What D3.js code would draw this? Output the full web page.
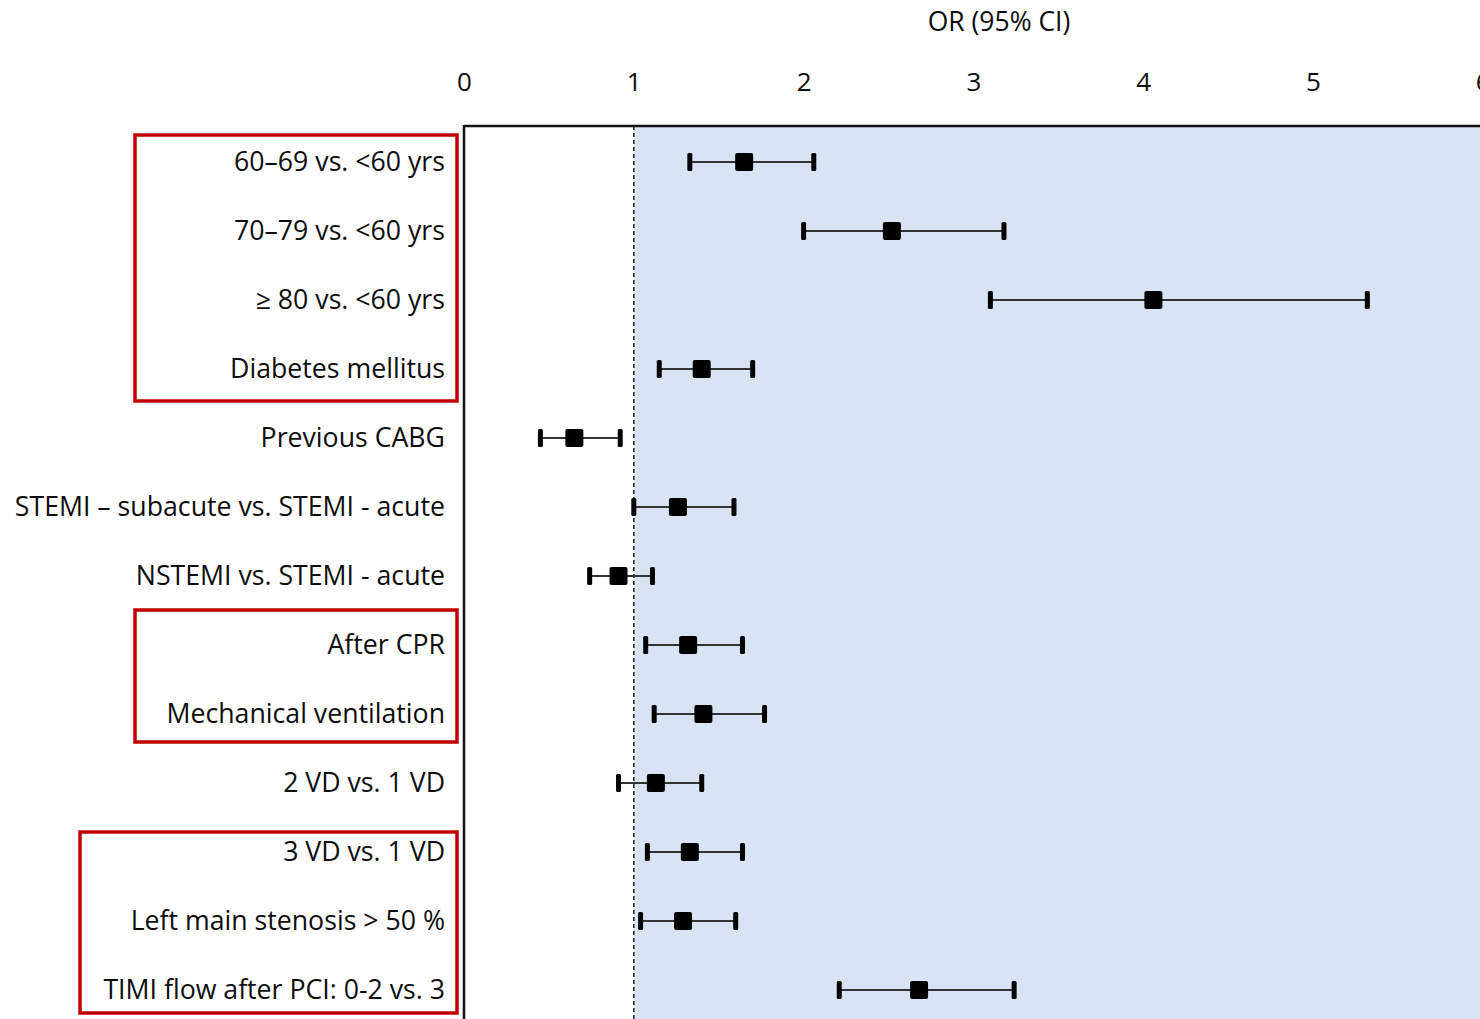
<!DOCTYPE html>
<html>
<head>
<meta charset="utf-8">
<script src="https://cdn.jsdelivr.net/npm/d3@7"></script>
<style>
  body { margin: 0; background: #fff; overflow: hidden; }
  svg text { font-family: "Open Sans", Lato, sans-serif; fill: #0d0d0d; }
</style>
</head>
<body>
<div class="chart-container"></div>
<script>
// forest plot data
const labels = [
  "60\u201369 vs. <60 yrs",
  "70\u201379 vs. <60 yrs",
  "\u2265 80 vs. <60 yrs",
  "Diabetes mellitus",
  "Previous CABG",
  "STEMI \u2013 subacute vs. STEMI - acute",
  "NSTEMI vs. STEMI - acute",
  "After CPR",
  "Mechanical ventilation",
  "2 VD vs. 1 VD",
  "3 VD vs. 1 VD",
  "Left main stenosis > 50 %",
  "TIMI flow after PCI: 0-2 vs. 3"
];
const or    = [1.65, 2.52, 4.06, 1.40, 0.65, 1.26, 0.91, 1.32, 1.41, 1.13, 1.33, 1.29, 2.68];
const lower = [1.33, 2.00, 3.10, 1.15, 0.45, 1.00, 0.74, 1.07, 1.12, 0.91, 1.08, 1.04, 2.21];
const upper = [2.06, 3.18, 5.32, 1.70, 0.92, 1.59, 1.11, 1.64, 1.77, 1.40, 1.64, 1.60, 3.24];
const xTicks = [0, 1, 2, 3, 4, 5, 6];
// highlighted groups (first row, last row)
const groups = [[0, 3], [7, 8], [10, 12]];

const W = 1480, H = 1019;
const plotLeft = 464, plotTop = 126, plotRight = 1534;

const svg = d3.select('.chart-container').append('svg')
  .attr('width', W).attr('height', H);

const x = d3.scaleLinear().domain([0, 6]).range([plotLeft, plotLeft + 6 * 169.8]);
const y = d3.scalePoint().domain(labels).range([162, 990]);

// shaded region right of OR = 1
svg.append('rect')
  .attr('x', x(1)).attr('y', plotTop)
  .attr('width', plotRight - x(1)).attr('height', H - plotTop + 10)
  .attr('fill', '#dae3f3');

// reference line
svg.append('line')
  .attr('x1', x(1)).attr('x2', x(1))
  .attr('y1', plotTop).attr('y2', H + 5)
  .attr('stroke', '#222').attr('stroke-width', 1.5)
  .attr('stroke-dasharray', '4,3');

// frame
svg.append('line')
  .attr('x1', plotLeft).attr('x2', plotRight)
  .attr('y1', plotTop).attr('y2', plotTop)
  .attr('stroke', '#111').attr('stroke-width', 2.5);
svg.append('line')
  .attr('x1', plotLeft).attr('x2', plotLeft)
  .attr('y1', plotTop - 1).attr('y2', H + 5)
  .attr('stroke', '#111').attr('stroke-width', 2.5);

// top axis
const axis = svg.append('g')
  .attr('transform', 'translate(0,' + 91 + ')')
  .call(d3.axisTop(x).tickValues(xTicks).tickSize(0).tickPadding(0).tickFormat(d3.format('d')));
axis.select('.domain').remove();
axis.selectAll('text')
  .style('font-family', '"Open Sans", Lato, sans-serif')
  .style('font-size', '26px')
  .attr('fill', '#0d0d0d')
  .attr('dy', 0);

svg.append('text')
  .attr('x', (plotLeft + plotRight) / 2).attr('y', 31)
  .attr('text-anchor', 'middle')
  .style('font-size', '26.5px')
  .text('OR (95% CI)');

// row labels
svg.append('g').selectAll('text')
  .data(labels)
  .enter()
  .append('text')
  .attr('x', 445)
  .attr('y', d => y(d))
  .attr('dy', '0.35em')
  .attr('text-anchor', 'end')
  .style('font-size', '26.7px')
  .text(d => d);

// red boxes round groups
const boxLeft = [135, 135, 80];
const padTop = [27, 35, 20];
const padBottom = [32, 28, 23];
svg.append('g').selectAll('rect')
  .data(groups)
  .enter()
  .append('rect')
  .attr('x', (d, i) => boxLeft[i])
  .attr('y', (d, i) => y(labels[d[0]]) - padTop[i])
  .attr('width', (d, i) => 457 - boxLeft[i])
  .attr('height', (d, i) => y(labels[d[1]]) - y(labels[d[0]]) + padTop[i] + padBottom[i])
  .attr('fill', 'none')
  .attr('stroke', '#c00000')
  .attr('stroke-width', 3.5);

// error bars
const rows = svg.append('g').selectAll('g')
  .data(labels)
  .enter()
  .append('g')
  .attr('transform', d => 'translate(0,' + y(d) + ')');

rows.append('line')
  .attr('x1', (d, i) => x(lower[i]))
  .attr('x2', (d, i) => x(upper[i]))
  .attr('stroke', '#333').attr('stroke-width', 2);

rows.selectAll('.cap')
  .data((d, i) => [lower[i], upper[i]])
  .enter()
  .append('rect')
  .attr('class', 'cap')
  .attr('x', v => x(v) - 2.5)
  .attr('y', -9)
  .attr('width', 5).attr('height', 18)
  .attr('rx', 1.5)
  .attr('fill', '#000');

rows.append('rect')
  .attr('x', (d, i) => x(or[i]) - 9)
  .attr('y', -9)
  .attr('width', 18).attr('height', 18)
  .attr('rx', 2)
  .attr('fill', '#000');
</script>
</body>
</html>
